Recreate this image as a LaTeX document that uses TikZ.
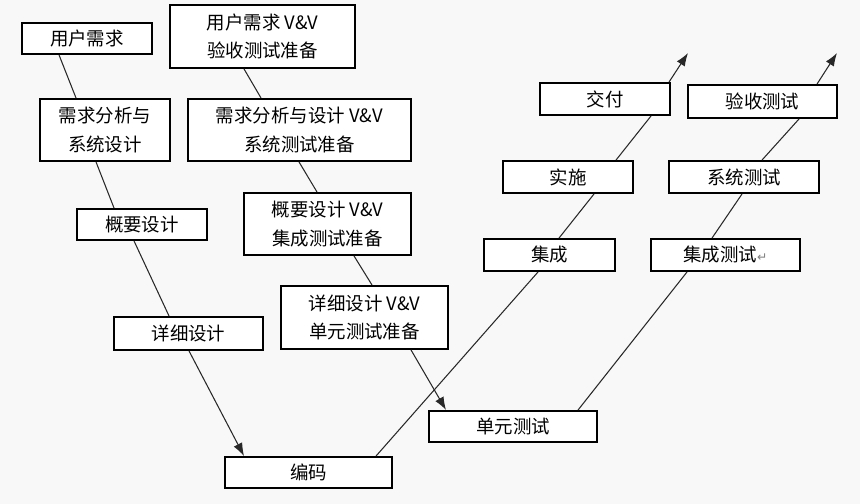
\documentclass[tikz,border=0pt]{standalone}
\usepackage{fontspec}
\setmainfont{Noto Sans CJK SC}
\newfontfamily\symfont{DejaVu Sans}
\usetikzlibrary{arrows.meta}

\newlength\pxu
\setlength\pxu{0.02cm}

\definecolor{bgcol}{RGB}{248,248,248}
\definecolor{linecol}{RGB}{40,40,40}

\tikzset{
  box/.style={draw=black, line width=1.1pt, fill=white, inner sep=0pt,
    align=center, font=\fontsize{10.5}{16}\selectfont},
  link/.style={draw=linecol, line width=0.6pt},
  tip/.style={link, -{Latex[length=2.6mm,width=1.9mm]}}
}

\begin{document}
\begin{tikzpicture}[x=0.02cm, y=-0.02cm]

\fill[bgcol] (0,0) rectangle (860,504);
\useasboundingbox (0,0) rectangle (860,504);

% === left leg: development ===
\node[box, minimum width=130\pxu, minimum height=31\pxu] (req)  at (87,38.5)   {用户需求};
\node[box, minimum width=130\pxu, minimum height=62\pxu] (sys)  at (105,130)   {需求分析与\\系统设计};
\node[box, minimum width=130\pxu, minimum height=31\pxu] (arch) at (142,224.5) {概要设计};
\node[box, minimum width=149\pxu, minimum height=33\pxu] (det)  at (188.5,333.5) {详细设计};
\node[box, minimum width=167\pxu, minimum height=31\pxu] (code) at (308.5,472.5) {编码};

% === V&V preparation ===
\node[box, minimum width=185\pxu, minimum height=63\pxu] (vvreq)  at (262.5,36.5) {用户需求 V\&V\\验收测试准备};
\node[box, minimum width=223\pxu, minimum height=62\pxu] (vvsys)  at (299.5,130)  {需求分析与设计 V\&V\\系统测试准备};
\node[box, minimum width=167\pxu, minimum height=62\pxu] (vvarch) at (327.5,224)  {概要设计 V\&V\\集成测试准备};
\node[box, minimum width=167\pxu, minimum height=63\pxu] (vvdet)  at (364.5,317.5) {详细设计 V\&V\\单元测试准备};

% === right legs ===
\node[box, minimum width=168\pxu, minimum height=31\pxu] (unit)  at (513,426.5) {单元测试};
\node[box, minimum width=131\pxu, minimum height=32\pxu] (integ) at (549.5,255)  {集成};
\node[box, minimum width=149\pxu, minimum height=32\pxu] (itest) at (725.5,255)  {集成测试{\symfont\color{gray}\scriptsize ↵}};
\node[box, minimum width=130\pxu, minimum height=32\pxu] (impl)  at (568,177)    {实施};
\node[box, minimum width=150\pxu, minimum height=32\pxu] (stest) at (744,177)    {系统测试};
\node[box, minimum width=130\pxu, minimum height=32\pxu] (deliv) at (605,99)     {交付};
\node[box, minimum width=149\pxu, minimum height=33\pxu] (atest) at (762.5,101.5) {验收测试};

\coordinate (end1) at (688,53);
\coordinate (end2) at (837,53);

% left leg links
\draw[link] ([xshift=38\pxu]req.south west)  -- ([xshift=37\pxu]sys.north west);
\draw[link] ([xshift=57\pxu]sys.south west)  -- ([xshift=38\pxu]arch.north west);
\draw[link] ([xshift=58\pxu]arch.south west) -- ([xshift=56\pxu]det.north west);
\draw[tip]  ([xshift=76\pxu]det.south west)  -- ([xshift=20\pxu]code.north west);

% V&V links
\draw[link] ([xshift=75\pxu]vvreq.south west)  -- ([xshift=74\pxu]vvsys.north west);
\draw[link] ([xshift=112\pxu]vvsys.south west) -- ([xshift=74\pxu]vvarch.north west);
\draw[link] ([xshift=111\pxu]vvarch.south west) -- ([xshift=92\pxu]vvdet.north west);
\draw[tip]  ([xshift=131\pxu]vvdet.south west) -- ([xshift=18\pxu]unit.north west);

% delivery leg
\draw[link] ([xshift=152\pxu]code.north west) -- ([xshift=55\pxu]integ.south west);
\draw[link] ([xshift=76\pxu]integ.north west) -- ([xshift=92\pxu]impl.south west);
\draw[link] ([xshift=114\pxu]impl.north west) -- ([xshift=112\pxu]deliv.south west);
\draw[tip]  ([xshift=130\pxu]deliv.north west) -- (end1);

% test leg
\draw[link] ([xshift=150\pxu]unit.north west)  -- ([xshift=37\pxu]itest.south west);
\draw[link] ([xshift=62\pxu]itest.north west)  -- ([xshift=74\pxu]stest.south west);
\draw[link] ([xshift=94\pxu]stest.north west)  -- ([xshift=112\pxu]atest.south west);
\draw[tip]  ([xshift=130\pxu]atest.north west) -- (end2);

\end{tikzpicture}
\end{document}
